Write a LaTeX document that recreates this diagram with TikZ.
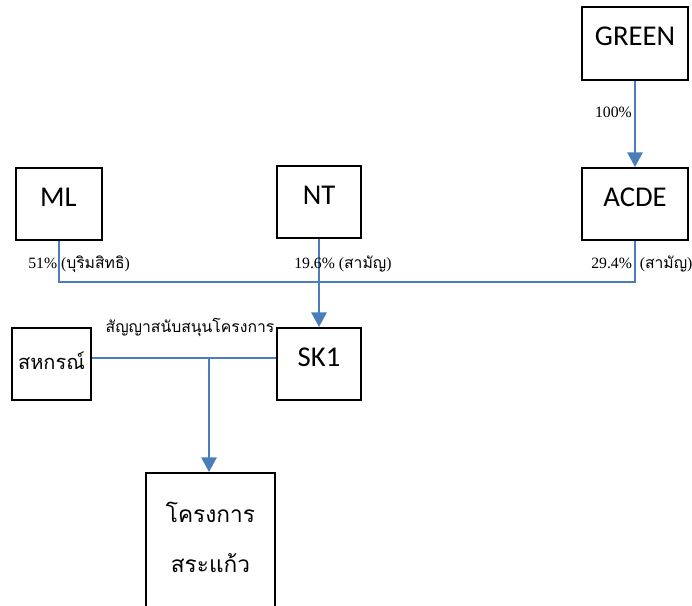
\documentclass[tikz,border=0pt]{standalone}
\usepackage{fontspec}
\setmainfont{Liberation Serif}
\newfontfamily\boxfont{Carlito}
\newfontfamily\thaibox[Script=Thai]{Loma}
\newfontfamily\thailab[Script=Thai]{Loma}
\usetikzlibrary{arrows.meta}
\definecolor{lineblue}{HTML}{4A7EBB}
\tikzset{
  entity/.style={draw=black, line width=1.5pt, rectangle, inner sep=0pt,
    text height=10pt, text depth=6.5pt,
    font=\boxfont\fontsize{21.5}{25}\selectfont},
  thaientity/.style={entity, text height=12pt, text depth=4pt,
    font=\thaibox\fontsize{15}{18}\selectfont},
  conn/.style={draw=lineblue, line width=1.5pt},
  arr/.style={conn, -{Triangle[width=11.5pt,length=11pt]}},
  lab/.style={inner sep=0pt, font=\fontsize{11.8}{13}\selectfont},
}
\begin{document}
\begin{tikzpicture}[x=0.75pt,y=-0.75pt]
\useasboundingbox (0,0) rectangle (692,606);
\clip (0,0) rectangle (692,606);
% boxes
\node[entity, minimum width=79.5pt, minimum height=54.75pt] (green) at (635,43.5) {GREEN};
\node[entity, minimum width=79.5pt, minimum height=54pt] (acde) at (635,204) {ACDE};
\node[entity, minimum width=64.5pt, minimum height=54pt] (ml) at (58.5,204) {ML};
\node[entity, minimum width=63pt, minimum height=54pt] (nt) at (319,202) {NT};
\node[entity, minimum width=63pt, minimum height=54pt] (sk) at (319,364) {SK1};
\node[thaientity, minimum width=59.25pt, minimum height=54pt] (coop) at (51.5,364) {สหกรณ์};
\node[entity, minimum width=96.75pt, minimum height=112.5pt, align=center,
  text height=, text depth=,
  font=\thaibox\fontsize{17}{37.5}\selectfont] (proj) at (210.5,548) {โครงการ\\สระแก้ว\\[-22pt]\mbox{}};
% connectors
\coordinate (bus) at (0,282);
\coordinate (cl) at (0,358);
\coordinate (br) at (209,358);
\draw[arr] (green.south) -- (acde.north);
\draw[conn] (ml.south) -- (ml.south |- bus) -- (acde.south |- bus) -- (acde.south);
\draw[arr] (nt.south) -- (sk.north);
\draw[conn] (coop.east |- cl) -- (sk.west |- cl);
\draw[arr] (br) -- (br |- proj.north);
% labels
\node[lab, anchor=east] (l100) at (632,112) {100\%};
\node[lab, anchor=west] (l51) at (28,264) {51\% ({\thailab บุริมสิทธิ})};
\node[lab, anchor=west] (l196) at (294,264) {19.6\% ({\thailab สามัญ})};
\node[lab, anchor=west] (l294) at (591,264) {29.4\%\ \ ({\thailab สามัญ})};
\node[lab, anchor=center, font=\thailab\fontsize{11.8}{13}\selectfont] (lcon) at (190,327) {สัญญาสนับสนุนโครงการ};
\end{tikzpicture}
\end{document}
